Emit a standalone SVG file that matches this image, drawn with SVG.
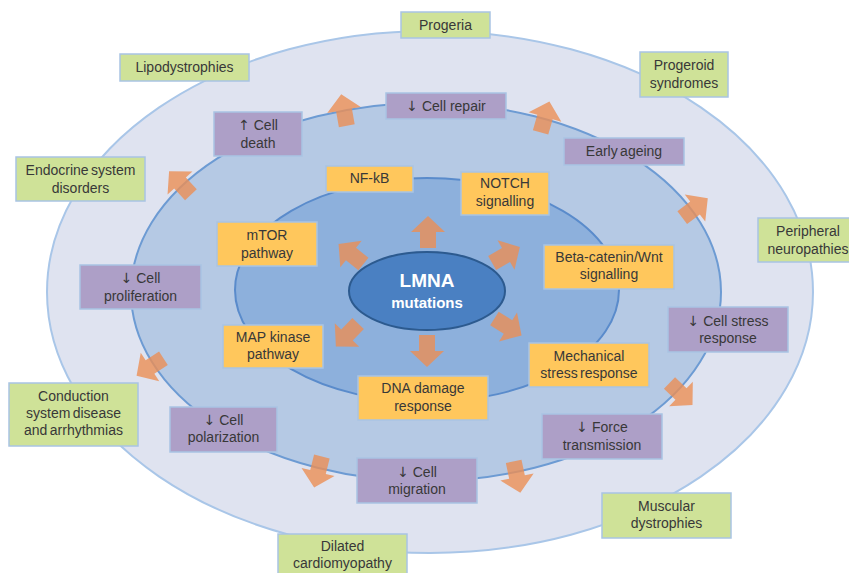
<svg xmlns="http://www.w3.org/2000/svg" xmlns:xlink="http://www.w3.org/1999/xlink" width="849" height="573" viewBox="0 0 849 573">
<style>
.t{font-family:"Liberation Sans",Arial,sans-serif;font-size:14px;fill:#383838;text-anchor:middle}
.a{font-family:"DejaVu Sans",sans-serif;font-size:14px}
.y{fill:#ffc75c;stroke:#a9c4e3;stroke-width:1.5}
.p{fill:#ad9fc7;stroke:#a9c4e3;stroke-width:1.5}
.g{fill:#cfe298;stroke:#a9c4e3;stroke-width:1.5}
.ws{word-spacing:-1.5px}
.arr{fill:#eb8f55;fill-opacity:0.8}
</style>
<defs>
<path id="blk" d="M-8,16 L-8,0 L-17,0 L0,-16 L17,0 L8,0 L8,16 Z"/>
</defs>
<rect width="849" height="573" fill="#ffffff"/>
<g id="rings">
<ellipse cx="430" cy="292" rx="383" ry="261" fill="#dfe3f0" stroke="#a9c6e8" stroke-width="2"/>
<ellipse cx="426" cy="292" rx="295" ry="189" fill="#b5c9e4" stroke="#6d9bd3" stroke-width="2"/>
<ellipse cx="427" cy="290" rx="192" ry="112" fill="#8db0dc" stroke="#5a8bcb" stroke-width="2"/>
</g>
<g id="connectors">
<use href="#blk" class="arr" transform="translate(428,232)"/>
<use href="#blk" class="arr" transform="translate(427,351) rotate(180)"/>
<use href="#blk" class="arr" transform="translate(351,254) rotate(-51)"/>
<use href="#blk" class="arr" transform="translate(506,255) rotate(60)"/>
<use href="#blk" class="arr" transform="translate(347,335) rotate(224)"/>
<use href="#blk" class="arr" transform="translate(508,327) rotate(122)"/>
<use href="#blk" class="arr" transform="translate(344,110) rotate(-10)"/>
<use href="#blk" class="arr" transform="translate(545,117) rotate(16)"/>
<use href="#blk" class="arr" transform="translate(180,183) rotate(-43)"/>
<use href="#blk" class="arr" transform="translate(695,208) rotate(53)"/>
<use href="#blk" class="arr" transform="translate(150,367) rotate(237)"/>
<use href="#blk" class="arr" transform="translate(681,394) rotate(134)"/>
<use href="#blk" class="arr" transform="translate(318,472) rotate(194)"/>
<use href="#blk" class="arr" transform="translate(517,477) rotate(168)"/>
</g>
<g id="lmna">
<ellipse cx="427" cy="291" rx="78" ry="39" fill="#4a80c2" stroke="#2c5a8f" stroke-width="2"/>
<text x="427" y="287" font-family="'Liberation Sans',Arial,sans-serif" font-size="19" font-weight="bold" fill="#ffffff" text-anchor="middle">LMNA</text>
<text x="427" y="308" font-family="'Liberation Sans',Arial,sans-serif" font-size="15" font-weight="bold" fill="#ffffff" text-anchor="middle">mutations</text>
</g>
<g id="nfkb"><rect class="y" x="326" y="166" width="87" height="26"/><text class="t" x="369.5" y="183">NF-kB</text></g>
<g id="notch"><rect class="y" x="461" y="172" width="88" height="43"/><text class="t" x="505" y="188">NOTCH</text><text class="t" x="505" y="206">signalling</text></g>
<g id="mtor"><rect class="y" x="217" y="222" width="100" height="44"/><text class="t" x="267" y="240">mTOR</text><text class="t" x="267" y="258">pathway</text></g>
<g id="wnt"><rect class="y" x="544" y="245" width="130" height="44"/><text class="t" x="609" y="262">Beta-catenin/Wnt</text><text class="t" x="609" y="279">signalling</text></g>
<g id="mapk"><rect class="y" x="223" y="325" width="100" height="43"/><text class="t" x="273" y="342">MAP kinase</text><text class="t" x="273" y="359">pathway</text></g>
<g id="mech"><rect class="y" x="529" y="343" width="120" height="44"/><text class="t" x="589" y="361">Mechanical</text><text class="t ws" x="589" y="378">stress response</text></g>
<g id="dna"><rect class="y" x="358" y="376" width="130" height="44"/><text class="t" x="423" y="393">DNA damage</text><text class="t" x="423" y="411">response</text></g>
<g id="repair"><rect class="p" x="386" y="93" width="120" height="26"/><text class="t" x="446" y="111"><tspan class="a">↓</tspan> Cell repair</text></g>
<g id="death"><rect class="p" x="214" y="112" width="88" height="44"/><text class="t" x="258" y="130"><tspan class="a">↑</tspan> Cell</text><text class="t" x="258" y="148">death</text></g>
<g id="ageing"><rect class="p" x="564" y="138" width="120" height="27"/><text class="t ws" x="624" y="156">Early ageing</text></g>
<g id="prolif"><rect class="p" x="80" y="265" width="121" height="44"/><text class="t" x="140.5" y="283"><tspan class="a">↓</tspan> Cell</text><text class="t" x="140.5" y="301">proliferation</text></g>
<g id="stress"><rect class="p" x="668" y="307" width="120" height="45"/><text class="t" x="728" y="326"><tspan class="a">↓</tspan> Cell stress</text><text class="t" x="728" y="343">response</text></g>
<g id="polar"><rect class="p" x="170" y="407" width="107" height="45"/><text class="t" x="223.5" y="425"><tspan class="a">↓</tspan> Cell</text><text class="t" x="223.5" y="442">polarization</text></g>
<g id="migr"><rect class="p" x="357" y="458" width="120" height="45"/><text class="t" x="417" y="477"><tspan class="a">↓</tspan> Cell</text><text class="t" x="417" y="494">migration</text></g>
<g id="force"><rect class="p" x="542" y="414" width="120" height="45"/><text class="t" x="602" y="432"><tspan class="a">↓</tspan> Force</text><text class="t" x="602" y="450">transmission</text></g>
<g id="progeria"><rect class="g" x="401" y="12" width="89" height="26"/><text class="t" x="445.5" y="30">Progeria</text></g>
<g id="lipo"><rect class="g" x="120" y="54" width="129" height="27"/><text class="t" x="184.5" y="72">Lipodystrophies</text></g>
<g id="progeroid"><rect class="g" x="640" y="52" width="88" height="45"/><text class="t" x="684" y="70">Progeroid</text><text class="t" x="684" y="88">syndromes</text></g>
<g id="endo"><rect class="g" x="16" y="157" width="129" height="44"/><text class="t ws" x="80.5" y="175">Endocrine system</text><text class="t" x="80.5" y="193">disorders</text></g>
<g id="periph"><rect class="g" x="758" y="218" width="95" height="44"/><text class="t" x="808" y="236">Peripheral</text><text class="t" x="808" y="254">neuropathies</text></g>
<g id="conduction"><rect class="g" x="9" y="383" width="129" height="63"/><text class="t" x="73.5" y="401">Conduction</text><text class="t ws" x="73.5" y="418">system disease</text><text class="t ws" x="73.5" y="435">and arrhythmias</text></g>
<g id="dcm"><rect class="g" x="278" y="534" width="129" height="45"/><text class="t" x="342.5" y="551">Dilated</text><text class="t" x="342.5" y="568">cardiomyopathy</text></g>
<g id="md"><rect class="g" x="602" y="493" width="129" height="45"/><text class="t" x="666.5" y="511">Muscular</text><text class="t" x="666.5" y="528">dystrophies</text></g>
</svg>
